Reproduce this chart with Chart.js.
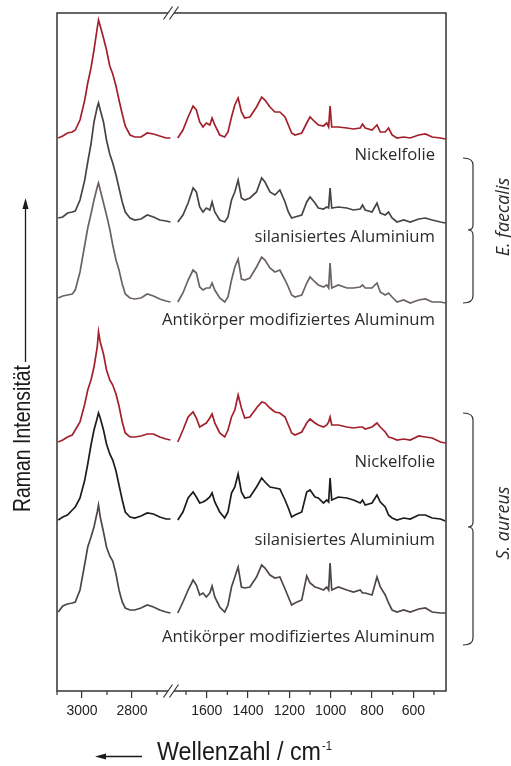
<!DOCTYPE html>
<html lang="de">
<head>
<meta charset="UTF-8">
<title>Raman Spektren</title>
<script src="https://cdn.jsdelivr.net/npm/chart.js@4.4.1/dist/chart.umd.min.js"></script>
<style>
  body { margin: 0; background: #fff; }
  #wrap { width: 511px; height: 766px; position: relative; }
</style>
</head>
<body>
<div id="wrap"><canvas id="myChart"></canvas></div>
<script>
// Wellenzahlen in cm-1, links C-H Bereich, rechts Fingerprint
const wnLeft = [3095, 3077, 3058, 3039, 3027, 3008, 2989, 2977, 2964, 2952, 2939, 2934, 2927, 2914, 2902,
  2889, 2877, 2864, 2852, 2839, 2827, 2808, 2789, 2764, 2739, 2714, 2689, 2664, 2646];
const wnRight = [1740, 1715, 1690, 1666, 1650, 1634, 1618, 1602, 1585, 1574, 1561, 1537, 1513, 1497, 1480,
  1464, 1448, 1432, 1416, 1391, 1359, 1334, 1318, 1294, 1270, 1246, 1221, 1205, 1189, 1173,
  1140, 1116, 1100, 1076, 1060, 1035, 1019, 1010, 1003, 995, 963, 922, 890, 857, 846,
  833, 800, 776, 760, 736, 720, 703, 679, 647, 615, 574, 542, 509, 469, 445];

// E. faecalis
const nickelEfLeft = [0, 2, 5, 6, 8, 18, 38, 55, 70, 88, 110, 118, 112, 100, 88, 72, 64, 52, 38, 24, 12, 3, 1, 1, 5, 4, 2, 0, 0];
const nickelEfRight = [0, 8, 21, 32, 28, 16, 11, 15, 13, 20, 13, 3, 1, 6, 21, 33, 40, 26, 20, 21, 31, 41, 38, 31, 26,
  26, 21, 13, 5, 3, 5, 15, 21, 16, 13, 12, 15, 11, 32, 11, 11, 10, 9, 10, 14, 10, 8, 13, 6, 6, 10, 3, 0, 1, 0, 3, 4, 1, 0, -1];
const silanEfLeft = [2, 3, 7, 8, 9, 20, 40, 58, 76, 98, 113, 117, 110, 98, 80, 66, 57, 45, 32, 18, 8, 2, 0, 1, 5, 3, 0, -1, -2];
const silanEfRight = [-2, 5, 17, 32, 28, 13, 8, 12, 10, 18, 8, 0, -2, 3, 20, 28, 40, 22, 20, 22, 28, 42, 38, 28, 25,
  30, 18, 8, 2, 3, 5, 18, 23, 17, 12, 11, 13, 12, 32, 12, 13, 12, 10, 11, 15, 10, 8, 17, 7, 5, 8, 2, -2, 0, -2, 1, 2, 0, -2, -3];
const antiEfLeft = [2, 4, 5, 6, 10, 28, 55, 72, 86, 100, 113, 117, 110, 97, 85, 71, 55, 40, 30, 16, 6, 2, 1, 2, 6, 4, 1, -1, -2];
const antiEfRight = [-2, 7, 20, 30, 27, 13, 10, 12, 12, 17, 10, 2, -2, 3, 20, 33, 41, 21, 20, 22, 33, 43, 40, 32, 28,
  30, 20, 13, 5, 3, 5, 17, 23, 18, 15, 13, 15, 12, 37, 12, 15, 12, 12, 13, 15, 12, 12, 17, 8, 5, 7, 3, -2, 0, -3, 0, 1, -2, -2, -3];

// S. aureus
const nickelSaLeft = [0, 2, 5, 7, 12, 20, 38, 52, 62, 75, 95, 110, 100, 88, 72, 62, 57, 48, 36, 20, 9, 5, 5, 6, 8, 8, 5, 3, 2];
const nickelSaRight = [0, 12, 25, 30, 24, 15, 17, 19, 24, 28, 19, 9, 5, 12, 25, 32, 47, 34, 24, 25, 34, 40, 39, 34, 30,
  29, 25, 17, 9, 7, 10, 19, 23, 19, 17, 15, 17, 20, 25, 17, 17, 15, 14, 15, 15, 13, 15, 19, 15, 10, 5, 4, 2, 3, 2, 6, 5, 4, 0, -1];
const silanSaLeft = [0, 3, 5, 10, 13, 22, 40, 56, 75, 90, 102, 107, 102, 90, 76, 66, 60, 49, 35, 20, 8, 3, 2, 4, 7, 6, 3, 1, 1];
const silanSaRight = [0, 8, 22, 28, 23, 17, 18, 20, 23, 27, 18, 8, 2, 8, 27, 33, 46, 28, 22, 23, 33, 42, 38, 33, 32,
  31, 20, 12, 3, 5, 8, 28, 30, 23, 22, 17, 20, 18, 42, 20, 23, 22, 20, 17, 20, 15, 17, 25, 18, 13, 5, 2, 0, 2, 1, 5, 5, 2, 1, -1];
const antiSaLeft = [0, 6, 8, 9, 10, 22, 48, 65, 75, 85, 100, 107, 95, 80, 65, 56, 51, 38, 22, 10, 4, 2, 2, 4, 7, 5, 2, 0, -1];
const antiSaRight = [-1, 10, 22, 32, 27, 17, 19, 15, 19, 26, 15, 5, 0, 7, 25, 35, 45, 25, 24, 25, 35, 47, 44, 37, 34,
  35, 23, 15, 7, 9, 12, 36, 29, 25, 24, 22, 25, 22, 49, 22, 25, 22, 20, 22, 19, 19, 17, 35, 25, 17, 9, 2, 0, 2, 0, 3, 4, 0, -1, -1];

// Versatz der Spektren (gestapelt)
const offsets = [553, 471, 391, 249, 171, 79];
const traceLabels = ['Nickelfolie', 'silanisiertes Aluminium', 'Antikörper modifiziertes Aluminum',
  'Nickelfolie', 'silanisiertes Aluminium', 'Antikörper modifiziertes Aluminum'];
const species = ['E. faecalis', 'S. aureus'];
const tickLabelsLeft = [3000, 2800];
const tickLabelsRight = [1600, 1400, 1200, 1000, 800, 600];

const colors = ['#a3202a', '#4a4343', '#6b6262', '#a3202a', '#1f1b1b', '#4f4646'];
const leftSeries = [nickelEfLeft, silanEfLeft, antiEfLeft, nickelSaLeft, silanSaLeft, antiSaLeft];
const rightSeries = [nickelEfRight, silanEfRight, antiEfRight, nickelSaRight, silanSaRight, antiSaRight];

const datasets = [];
leftSeries.forEach((s, i) => {
  const common = { borderColor: colors[i], borderWidth: 1.7, pointRadius: 0, tension: 0, fill: false };
  datasets.push(Object.assign({ xAxisID: 'xL', data: s.map((v, j) => ({ x: wnLeft[j], y: v + offsets[i] })) }, common));
  datasets.push(Object.assign({ xAxisID: 'xR', data: rightSeries[i].map((v, j) => ({ x: wnRight[j], y: v + offsets[i] })) }, common));
});

const SANS = "'Liberation Sans', Arial, sans-serif";
const labelY = [155, 237, 320, 462, 540, 637];
const brackets = [[158, 230, 303], [413, 527, 645]];
const speciesY = [217, 523];

// Text horizontal auf eine Breite stauchen (schmale Schrift nachbilden)
function fitText(ctx, text, x, y, width) {
  const w = ctx.measureText(text).width;
  ctx.save();
  ctx.translate(x, y);
  ctx.scale(width / w, 1);
  ctx.fillText(text, 0, 0);
  ctx.restore();
}

const decor = {
  id: 'decor',
  afterDraw(chart) {
    const { ctx, chartArea: a, scales } = chart;
    const xb = scales.xL.right;
    ctx.save();
    // Rahmen
    ctx.strokeStyle = '#333';
    ctx.lineWidth = 1.5;
    ctx.strokeRect(a.left, a.top, a.right - a.left, a.bottom - a.top);
    // kleine Ticks
    ctx.lineWidth = 1.2;
    [scales.xL, scales.xR].forEach(sc => {
      sc.ticks.forEach(t => {
        if (t.value % 200 !== 0) {
          const px = sc.getPixelForValue(t.value);
          ctx.beginPath();
          ctx.moveTo(px, a.bottom);
          ctx.lineTo(px, a.bottom + 4);
          ctx.stroke();
        }
      });
    });
    // Achsenbruch //
    const s = xb - 1;
    [a.top, a.bottom].forEach(y => {
      ctx.fillStyle = '#fff';
      ctx.beginPath();
      ctx.moveTo(s - 7.5, y + 6.5);
      ctx.lineTo(s + 1.5, y - 6.5);
      ctx.lineTo(s + 7.5, y - 6.5);
      ctx.lineTo(s - 1.5, y + 6.5);
      ctx.closePath();
      ctx.fill();
      ctx.beginPath();
      ctx.moveTo(s - 7.5, y + 6.5);
      ctx.lineTo(s + 1.5, y - 6.5);
      ctx.moveTo(s - 1.5, y + 6.5);
      ctx.lineTo(s + 7.5, y - 6.5);
      ctx.stroke();
    });

    // Beschriftung der Spektren
    ctx.fillStyle = '#2b2b2b';
    ctx.font = "15px 'Open Sans', sans-serif";
    const fs = 15 * 273 / ctx.measureText(traceLabels[2]).width;
    ctx.font = fs.toFixed(2) + "px 'Open Sans', sans-serif";
    ctx.textAlign = 'right';
    ctx.textBaseline = 'middle';
    traceLabels.forEach((t, i) => ctx.fillText(t, a.right - 11, labelY[i]));

    // Klammern
    ctx.lineWidth = 1.2;
    ctx.strokeStyle = '#333';
    const bx = a.right + 27;
    brackets.forEach(([t, m, b]) => {
      ctx.beginPath();
      ctx.moveTo(bx - 10, t);
      ctx.quadraticCurveTo(bx, t, bx, t + 7);
      ctx.lineTo(bx, m - 5);
      ctx.quadraticCurveTo(bx, m, bx - 5, m);
      ctx.quadraticCurveTo(bx, m, bx, m + 5);
      ctx.lineTo(bx, b - 7);
      ctx.quadraticCurveTo(bx, b, bx - 10, b);
      ctx.stroke();
    });

    // Spezies
    ctx.font = "italic 18px 'Open Sans', sans-serif";
    ctx.textAlign = 'center';
    species.forEach((t, i) => {
      ctx.save();
      ctx.translate(504, speciesY[i]);
      ctx.rotate(-Math.PI / 2);
      ctx.fillText(t, 0, 0);
      ctx.restore();
    });

    // y-Titel
    ctx.fillStyle = '#1a1a1a';
    ctx.strokeStyle = '#1a1a1a';
    ctx.font = '24px ' + SANS;
    ctx.textAlign = 'center';
    ctx.textBaseline = 'alphabetic';
    ctx.save();
    ctx.translate(30, 438.5);
    ctx.rotate(-Math.PI / 2);
    fitText(ctx, 'Raman Intensität', 0, 0, 147);
    ctx.restore();
    ctx.lineWidth = 1.3;
    ctx.beginPath();
    ctx.moveTo(25.5, 362);
    ctx.lineTo(25.5, 206);
    ctx.stroke();
    ctx.beginPath();
    ctx.moveTo(25.5, 198);
    ctx.lineTo(28.5, 209);
    ctx.lineTo(22.5, 209);
    ctx.closePath();
    ctx.fill();

    // x-Titel
    ctx.font = '25px ' + SANS;
    ctx.textAlign = 'left';
    fitText(ctx, 'Wellenzahl / cm', 157, 760, 164);
    ctx.font = '13px ' + SANS;
    fitText(ctx, '-1', 322, 750, 10);
    ctx.beginPath();
    ctx.moveTo(142, 756.5);
    ctx.lineTo(103, 756.5);
    ctx.stroke();
    ctx.beginPath();
    ctx.moveTo(95, 756.5);
    ctx.lineTo(106, 753.5);
    ctx.lineTo(106, 759.5);
    ctx.closePath();
    ctx.fill();
    ctx.restore();
  }
};

function xAxis(min, max, weight, labelled) {
  return {
    type: 'linear',
    axis: 'x',
    position: 'bottom',
    stack: 'wn',
    stackWeight: weight,
    min: min,
    max: max,
    reverse: true,
    afterFit: sc => { sc.height = 75; },
    border: { display: false },
    grid: {
      drawOnChartArea: false,
      drawTicks: true,
      tickLength: 7,
      lineWidth: 1.2,
      tickColor: c => (c.tick && c.tick.value % 200 === 0 ? '#333' : 'rgba(0,0,0,0)')
    },
    ticks: {
      stepSize: 100,
      includeBounds: false,
      autoSkip: false,
      maxRotation: 0,
      padding: 5,
      color: '#222',
      font: { family: SANS, size: 14 },
      callback: v => (labelled.includes(v) ? String(v) : '')
    }
  };
}

const ctx = document.getElementById('myChart').getContext('2d');
new Chart(ctx, {
  type: 'line',
  data: { datasets: datasets },
  options: {
    responsive: true,
    maintainAspectRatio: false,
    animation: false,
    events: [],
    layout: { padding: { left: 57, right: 65, top: 13, bottom: 0 } },
    plugins: { legend: { display: false }, tooltip: { enabled: false } },
    scales: {
      xL: xAxis(2640, 3100, 115, tickLabelsLeft),
      xR: xAxis(442, 1768, 274, tickLabelsRight),
      y: { type: 'linear', display: false, min: 0, max: 678 }
    }
  },
  plugins: [decor]
});
</script>
</body>
</html>
